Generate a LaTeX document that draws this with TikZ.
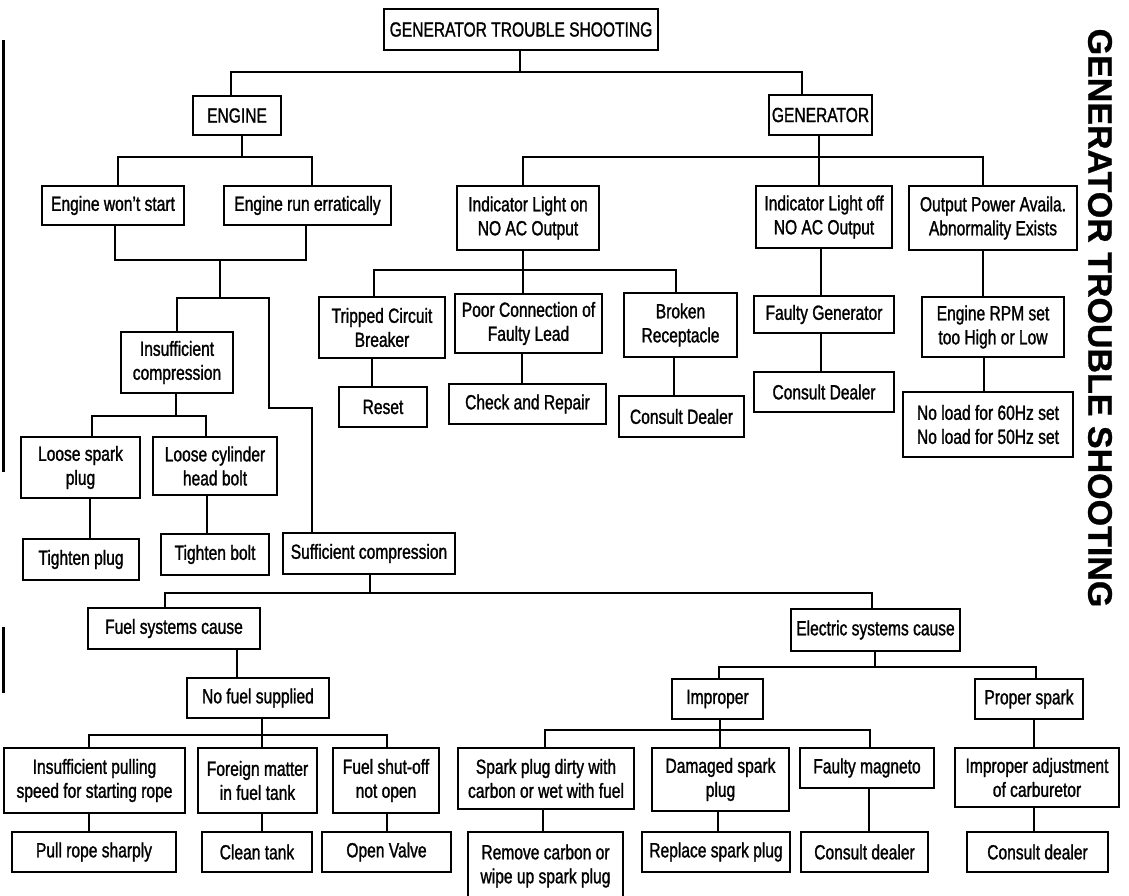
\documentclass[tikz,border=0pt]{standalone}
\usepackage{fontspec}
\setmainfont{Liberation Sans}[FakeStretch=0.76,FakeBold=1.3]
\newfontfamily\sidefont{Liberation Sans}[FakeBold=0.8]
\begin{document}
\begin{tikzpicture}[x=1pt,y=-1pt,
  box/.style={draw, line width=1.8pt, align=center, inner sep=0pt,
    font=\fontsize{20.5}{24}\selectfont},
  conn/.style={line width=1.8pt},
  edge/.style={line width=3pt}]
\useasboundingbox (0,0) rectangle (1129,895);
% ---- nodes ----
\node[box, minimum width=274pt, minimum height=41pt] (title) at (521,29.5) {GENERATOR TROUBLE SHOOTING};
\node[box, minimum width=88pt, minimum height=39pt] (engine) at (237,115.5) {ENGINE};
\node[box, minimum width=103pt, minimum height=40pt] (gen) at (820.5,115) {GENERATOR};
\node[box, minimum width=142pt, minimum height=39pt] (ews) at (113,205.5) {Engine won't start};
\node[box, minimum width=167pt, minimum height=39pt] (ere) at (307.5,205.5) {Engine run erratically};
\node[box, minimum width=142pt, minimum height=64pt] (ilon) at (528,218) {Indicator Light on\\NO AC Output};
\node[box, minimum width=136pt, minimum height=62pt] (iloff) at (824,217) {Indicator Light off\\NO AC Output};
\node[box, minimum width=168pt, minimum height=64pt] (opa) at (993,218) {Output Power Availa.\\Abnormality Exists};
\node[box, minimum width=126pt, minimum height=61pt] (tcb) at (382,327.5) {Tripped Circuit\\Breaker};
\node[box, minimum width=147pt, minimum height=59pt] (pcf) at (528.5,323.5) {Poor Connection of\\Faulty Lead};
\node[box, minimum width=113pt, minimum height=64pt] (brk) at (680.5,325) {Broken\\Receptacle};
\node[box, minimum width=140pt, minimum height=37pt] (fgen) at (824,314.5) {Faulty Generator};
\node[box, minimum width=142pt, minimum height=60pt] (rpm) at (993,327) {Engine RPM set\\too High or Low};
\node[box, minimum width=88pt, minimum height=40pt] (reset) at (383,407) {Reset};
\node[box, minimum width=157pt, minimum height=40pt] (chk) at (527.5,404) {Check and Repair};
\node[box, minimum width=125pt, minimum height=41pt] (cd1) at (681.5,416.5) {Consult Dealer};
\node[box, minimum width=140pt, minimum height=40pt] (cd2) at (824,392) {Consult Dealer};
\node[box, minimum width=170pt, minimum height=65pt] (noload) at (988,424.5) {No load for 60Hz set\\No load for 50Hz set};
\node[box, minimum width=112pt, minimum height=61pt] (insc) at (177,362.5) {Insufficient\\compression};
\node[box, minimum width=119pt, minimum height=61pt] (lsp) at (80.5,467.5) {Loose spark\\plug};
\node[box, minimum width=124pt, minimum height=58pt] (lch) at (215,466) {Loose cylinder\\head bolt};
\node[box, minimum width=116pt, minimum height=41pt] (tp) at (81,559.5) {Tighten plug};
\node[box, minimum width=108pt, minimum height=41pt] (tb) at (215,554.5) {Tighten bolt};
\node[box, minimum width=172pt, minimum height=41pt] (suf) at (369,553.5) {Sufficient compression};
\node[box, minimum width=172pt, minimum height=41pt] (fsc) at (174,628.5) {Fuel systems cause};
\node[box, minimum width=169pt, minimum height=42pt] (esc) at (875.5,630) {Electric systems cause};
\node[box, minimum width=142pt, minimum height=40pt] (nfs) at (258,698) {No fuel supplied};
\node[box, minimum width=91pt, minimum height=40pt] (imp) at (717.5,699) {Improper};
\node[box, minimum width=108pt, minimum height=40pt] (prs) at (1029,699) {Proper spark};
\node[box, minimum width=181pt, minimum height=65pt] (ips) at (94.5,780.5) {Insufficient pulling\\speed for starting rope};
\node[box, minimum width=119pt, minimum height=65pt] (fm) at (257.5,780.5) {Foreign matter\\in fuel tank};
\node[box, minimum width=106pt, minimum height=65pt] (fso) at (386,780.5) {Fuel shut-off\\not open};
\node[box, minimum width=176pt, minimum height=61pt] (spd) at (546,778.5) {Spark plug dirty with\\carbon or wet with fuel};
\node[box, minimum width=137pt, minimum height=63pt] (dsp) at (720.5,779.5) {Damaged spark\\plug};
\node[box, minimum width=134pt, minimum height=40pt] (fmag) at (867,768) {Faulty magneto};
\node[box, minimum width=164pt, minimum height=59pt] (iac) at (1037,777.5) {Improper adjustment\\of carburetor};
\node[box, minimum width=164pt, minimum height=40pt] (prs2) at (94,852) {Pull rope sharply};
\node[box, minimum width=110pt, minimum height=40pt] (ct) at (257,852) {Clean tank};
\node[box, minimum width=129pt, minimum height=40pt] (ov) at (386.5,852) {Open Valve};
\node[box, minimum width=155pt, minimum height=68pt] (rc) at (545.5,866) {Remove carbon or\\wipe up spark plug};
\node[box, minimum width=148pt, minimum height=40pt] (rsp) at (716,852) {Replace spark plug};
\node[box, minimum width=127pt, minimum height=40pt] (cdl1) at (864.5,852) {Consult dealer};
\node[box, minimum width=141pt, minimum height=40pt] (cdl2) at (1037.5,852) {Consult dealer};
\node[font=\sidefont\bfseries\fontsize{34}{34}\selectfont, rotate=-90, inner sep=0pt] (side) at (1100,318) {GENERATOR TROUBLE SHOOTING};
% ---- connectors ----
\draw[conn] (title.south -| 520,0) -- (520,72) -| (engine.north -| 231,0);
\draw[conn] (520,72) -| (gen.north -| 802,0);
\draw[conn] (engine.south -| 242,0) -- (242,157) -| (ews.north -| 118,0);
\draw[conn] (242,157) -| (ere.north -| 312,0);
\draw[conn] (gen.south -| 819,0) -- (iloff.north -| 819,0);
\draw[conn] (819,157) -| (ilon.north -| 523,0);
\draw[conn] (819,157) -| (opa.north -| 983,0);
\draw[conn] (ilon.south -| 523,0) -- (pcf.north -| 523,0);
\draw[conn] (523,270) -| (tcb.north -| 374,0);
\draw[conn] (523,270) -| (brk.north -| 676,0);
\draw[conn] (tcb.south -| 372,0) -- (reset.north -| 372,0);
\draw[conn] (pcf.south -| 522,0) -- (chk.north -| 522,0);
\draw[conn] (brk.south -| 674,0) -- (cd1.north -| 674,0);
\draw[conn] (iloff.south -| 821,0) -- (fgen.north -| 821,0);
\draw[conn] (fgen.south -| 821,0) -- (cd2.north -| 821,0);
\draw[conn] (opa.south -| 983,0) -- (rpm.north -| 983,0);
\draw[conn] (rpm.south -| 984,0) -- (noload.north -| 984,0);
\draw[conn] (ews.south -| 115,0) |- (306,260) -- (ere.south -| 306,0);
\draw[conn] (220,260) -- (220,298);
\draw[conn] (insc.north -| 177,0) |- (269,298) |- (312,408) -- (suf.north -| 312,0);
\draw[conn] (insc.south -| 176,0) -- (176,416);
\draw[conn] (lsp.north -| 92,0) |- (206,416) -- (lch.north -| 206,0);
\draw[conn] (lsp.south -| 90,0) -- (tp.north -| 90,0);
\draw[conn] (lch.south -| 207,0) -- (tb.north -| 207,0);
\draw[conn] (suf.south -| 370,0) -- (370,593);
\draw[conn] (fsc.north -| 165,0) |- (872,593) -- (esc.north -| 872,0);
\draw[conn] (fsc.south -| 237,0) -- (nfs.north -| 237,0);
\draw[conn] (nfs.south -| 262,0) -- (fm.north -| 262,0);
\draw[conn] (ips.north -| 89,0) |- (387,735) -- (fso.north -| 387,0);
\draw[conn] (ips.south -| 89,0) -- (prs2.north -| 89,0);
\draw[conn] (fm.south -| 262,0) -- (ct.north -| 262,0);
\draw[conn] (fso.south -| 387,0) -- (ov.north -| 387,0);
\draw[conn] (esc.south -| 875,0) -- (875,667);
\draw[conn] (imp.north -| 719,0) |- (1036,667) -- (prs.north -| 1036,0);
\draw[conn] (imp.south -| 720,0) -- (dsp.north -| 720,0);
\draw[conn] (spd.north -| 545,0) |- (870,730) -- (fmag.north -| 870,0);
\draw[conn] (prs.south -| 1034,0) -- (iac.north -| 1034,0);
\draw[conn] (spd.south -| 543,0) -- (rc.north -| 543,0);
\draw[conn] (dsp.south -| 718,0) -- (rsp.north -| 718,0);
\draw[conn] (fmag.south -| 869,0) -- (cdl1.north -| 869,0);
\draw[conn] (iac.south -| 1034,0) -- (cdl2.north -| 1034,0);
% page edge marks
\draw[edge] (3,40) -- (3,472);
\draw[edge] (3,627) -- (3,693);
\end{tikzpicture}
\end{document}
